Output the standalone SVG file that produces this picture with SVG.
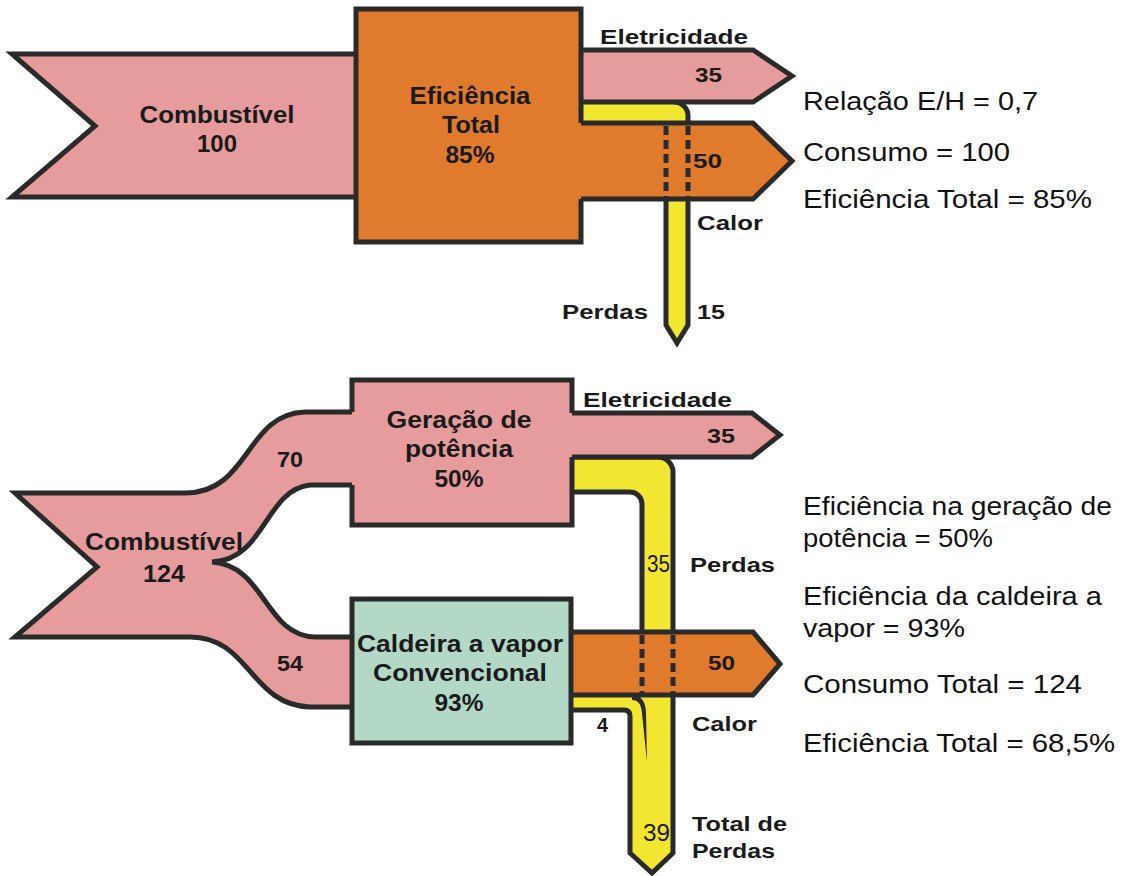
<svg xmlns="http://www.w3.org/2000/svg" width="1132" height="876" viewBox="0 0 1132 876">
  <style>
    .edge { fill: none; stroke: #2a2a2a; stroke-width: 5; stroke-linejoin: miter; }
    .dash { fill: none; stroke: #2a2a2a; stroke-width: 5; stroke-dasharray: 9 5; }
    .pink { fill: #E69C9C; }
    .orange { fill: #E07A2D; }
    .yellow { fill: #F2E631; }
    .mint { fill: #B4D8C6; }
    .lbl { font-family: "Liberation Sans", Arial, sans-serif; font-weight: bold; fill: #1a1a1a; }
    .note { font-family: "Liberation Sans", Arial, sans-serif; font-size: 26px; fill: #111; }
    .c { text-anchor: middle; }
  </style>

  <rect width="1132" height="876" fill="#ffffff"/>

  <!-- Energy flows (connectors) -->
  <g id="connectors">
    <!-- Upper scheme: losses 15 -->
    <g id="flow-top-perdas">
      <path class="yellow" d="M581,102 H674 A14,14 0 0 1 688,116 V325 L677,343 L666,325 V123 H581 Z"/>
    </g>
    <!-- Upper scheme: heat 50 -->
    <g id="flow-top-calor">
      <polygon class="orange" points="581,123 753,123 792,161 753,199 581,199"/>
      <path class="edge" d="M581,123 H753 L792,161 L753,199 H581"/>
      <line class="dash" x1="666" y1="126" x2="666" y2="197"/>
      <line class="dash" x1="688" y1="126" x2="688" y2="197"/>
    </g>
    <g id="flow-top-perdas-edges">
      <path class="edge" d="M674,102 A14,14 0 0 1 688,116 V123"/>
      <path class="edge" d="M688,199 V325 L677,343 L666,325 V199"/>
    </g>
    <!-- Upper scheme: electricity 35 -->
    <g id="flow-top-eletricidade">
      <polygon class="pink" points="581,50 753,50 792,76 753,102 581,102"/>
      <path class="edge" d="M581,50 H753 L792,76 L753,102 H581"/>
    </g>
    <!-- Upper scheme: fuel 100 -->
    <g id="flow-top-combustivel">
      <polygon class="pink" points="12,54 358,54 358,197 12,197 95,126"/>
      <path class="edge" d="M358,54 H12 L95,126 L12,197 H358"/>
    </g>

    <!-- Lower scheme: losses 35 + 4 = 39 -->
    <g id="flow-bottom-perdas">
      <path class="yellow" d="M572,457 H658 A15,15 0 0 1 673,472 V853 L652,873 L630,853 V716 Q630,710 624,710 H571 V695 H642 V504 A12,12 0 0 0 630,492 H572 Z"/>
      <path class="edge" d="M572,457 H658 A15,15 0 0 1 673,472 V632"/>
      <path class="edge" d="M572,492 H630 A12,12 0 0 1 642,504 V632"/>
      <path class="edge" d="M673,695 V853 L652,873 L630,853 V716 Q630,710 624,710 H571"/>
      <path fill="#2a2a2a" d="M632,695 Q645,695 646,712 L647,762 L642,713 Q641,700 632,700 Z"/>
    </g>
    <!-- Lower scheme: heat 50 -->
    <g id="flow-bottom-calor">
      <polygon class="orange" points="571,632 753,632 780,664 753,695 571,695"/>
      <path class="edge" d="M571,632 H753 L780,664 L753,695 H571"/>
      <line class="dash" x1="642" y1="635" x2="642" y2="693"/>
      <line class="dash" x1="673" y1="635" x2="673" y2="693"/>
    </g>
    <!-- Lower scheme: electricity 35 -->
    <g id="flow-bottom-eletricidade">
      <polygon class="pink" points="572,413 752,413 780,435 752,457 572,457"/>
      <path class="edge" d="M572,413 H752 L780,435 L752,457 H572"/>
    </g>
    <!-- Lower scheme: fuel 124 split into 70 and 54 -->
    <g id="flow-bottom-combustivel">
      <path class="pink" d="M15,493 H185 C250,493 245,414 305,412 H352 V485 H310 C265,490 265,560 212,562 C265,565 265,636 315,637 H352 V708 H310 C250,705 250,637 190,637 H15 L97,567 Z"/>
      <path class="edge" d="M352,412 H305 C245,414 250,493 185,493 H15 L97,567 L15,637 H190 C250,637 250,705 310,707 H352"/>
      <path class="edge" d="M352,485 H310 C265,490 265,560 212,562 C265,565 265,636 315,637 H352"/>
    </g>
  </g>

  <!-- Upper scheme: cogeneration unit -->
  <g id="node-eficiencia-total">
    <rect class="orange" x="356" y="9" width="225" height="233"/>
    <path class="edge" d="M581,123 V9 H356 V242 H581 V199"/>
    <text class="lbl c" x="470" y="104" font-size="23" textLength="121" lengthAdjust="spacingAndGlyphs">Eficiência</text>
    <text class="lbl c" x="471" y="133" font-size="23" textLength="58" lengthAdjust="spacingAndGlyphs">Total</text>
    <text class="lbl c" x="470" y="163" font-size="23" textLength="49" lengthAdjust="spacingAndGlyphs">85%</text>
  </g>

  <!-- Lower scheme: power generation -->
  <g id="node-geracao-potencia">
    <rect class="pink" x="352" y="380" width="220" height="145"/>
    <path class="edge" d="M352,412 V380 H572 V413"/>
    <path class="edge" d="M572,457 V525 H352 V485"/>
    <text class="lbl c" x="459" y="428" font-size="23" textLength="145" lengthAdjust="spacingAndGlyphs">Geração de</text>
    <text class="lbl c" x="459" y="457" font-size="23" textLength="108" lengthAdjust="spacingAndGlyphs">potência</text>
    <text class="lbl c" x="459" y="487" font-size="23" textLength="49" lengthAdjust="spacingAndGlyphs">50%</text>
  </g>

  <!-- Lower scheme: conventional steam boiler -->
  <g id="node-caldeira">
    <rect class="mint" x="352" y="599" width="219" height="144"/>
    <rect class="edge" x="352" y="599" width="219" height="144"/>
    <text class="lbl c" x="460" y="652" font-size="23" textLength="206" lengthAdjust="spacingAndGlyphs">Caldeira a vapor</text>
    <text class="lbl c" x="460" y="681" font-size="23" textLength="174" lengthAdjust="spacingAndGlyphs">Convencional</text>
    <text class="lbl c" x="459" y="711" font-size="23" textLength="49" lengthAdjust="spacingAndGlyphs">93%</text>
  </g>

  <!-- Flow labels -->
  <g id="labels">
    <text class="lbl c" x="217" y="123" font-size="23" textLength="155" lengthAdjust="spacingAndGlyphs">Combustível</text>
    <text class="lbl c" x="217" y="152" font-size="23" textLength="40" lengthAdjust="spacingAndGlyphs">100</text>
    <text class="lbl" x="600" y="44" font-size="21" textLength="148" lengthAdjust="spacingAndGlyphs">Eletricidade</text>
    <text class="lbl" x="695" y="82" font-size="21" textLength="27" lengthAdjust="spacingAndGlyphs">35</text>
    <text class="lbl" x="693" y="168" font-size="21" textLength="29" lengthAdjust="spacingAndGlyphs">50</text>
    <text class="lbl" x="697" y="230" font-size="21" textLength="66" lengthAdjust="spacingAndGlyphs">Calor</text>
    <text class="lbl" x="562" y="319" font-size="21" textLength="86" lengthAdjust="spacingAndGlyphs">Perdas</text>
    <text class="lbl" x="697" y="319" font-size="21" textLength="28" lengthAdjust="spacingAndGlyphs">15</text>

    <text class="lbl c" x="164" y="550" font-size="23" textLength="158" lengthAdjust="spacingAndGlyphs">Combustível</text>
    <text class="lbl c" x="164" y="582" font-size="23" textLength="42" lengthAdjust="spacingAndGlyphs">124</text>
    <text class="lbl" x="277" y="467" font-size="22" textLength="26" lengthAdjust="spacingAndGlyphs">70</text>
    <text class="lbl" x="277" y="671" font-size="22" textLength="26" lengthAdjust="spacingAndGlyphs">54</text>
    <text class="lbl" x="583" y="407" font-size="21" textLength="149" lengthAdjust="spacingAndGlyphs">Eletricidade</text>
    <text class="lbl" x="707" y="443" font-size="21" textLength="28" lengthAdjust="spacingAndGlyphs">35</text>
    <text x="647" y="572" font-family="'Liberation Sans Narrow', 'Liberation Sans', Arial, sans-serif" font-size="23" fill="#1a1a1a" textLength="23" lengthAdjust="spacingAndGlyphs">35</text>
    <text class="lbl" x="690" y="572" font-size="21" textLength="85" lengthAdjust="spacingAndGlyphs">Perdas</text>
    <text class="lbl" x="708" y="670" font-size="21" textLength="27" lengthAdjust="spacingAndGlyphs">50</text>
    <text class="lbl" x="597" y="732" font-size="21" textLength="11" lengthAdjust="spacingAndGlyphs">4</text>
    <text class="lbl" x="692" y="731" font-size="21" textLength="65" lengthAdjust="spacingAndGlyphs">Calor</text>
    <text x="643" y="841" font-family="'Liberation Sans Narrow', 'Liberation Sans', Arial, sans-serif" font-size="23" fill="#1a1a1a" textLength="27" lengthAdjust="spacingAndGlyphs">39</text>
    <text class="lbl" x="692" y="831" font-size="21" textLength="95" lengthAdjust="spacingAndGlyphs">Total de</text>
    <text class="lbl" x="692" y="858" font-size="21" textLength="83" lengthAdjust="spacingAndGlyphs">Perdas</text>
  </g>

  <!-- Summary figures -->
  <g id="summary-top">
    <text class="note" x="803" y="110" textLength="235" lengthAdjust="spacingAndGlyphs">Relação E/H = 0,7</text>
    <text class="note" x="803" y="161" textLength="207" lengthAdjust="spacingAndGlyphs">Consumo = 100</text>
    <text class="note" x="803" y="208" textLength="289" lengthAdjust="spacingAndGlyphs">Eficiência Total = 85%</text>
  </g>
  <g id="summary-bottom">
    <text class="note" x="803" y="515" textLength="309" lengthAdjust="spacingAndGlyphs">Eficiência na geração de</text>
    <text class="note" x="803" y="547" textLength="190" lengthAdjust="spacingAndGlyphs">potência = 50%</text>
    <text class="note" x="803" y="605" textLength="299" lengthAdjust="spacingAndGlyphs">Eficiência da caldeira a</text>
    <text class="note" x="803" y="637" textLength="162" lengthAdjust="spacingAndGlyphs">vapor = 93%</text>
    <text class="note" x="803" y="693" textLength="279" lengthAdjust="spacingAndGlyphs">Consumo Total = 124</text>
    <text class="note" x="803" y="752" textLength="312" lengthAdjust="spacingAndGlyphs">Eficiência Total = 68,5%</text>
  </g>
</svg>
